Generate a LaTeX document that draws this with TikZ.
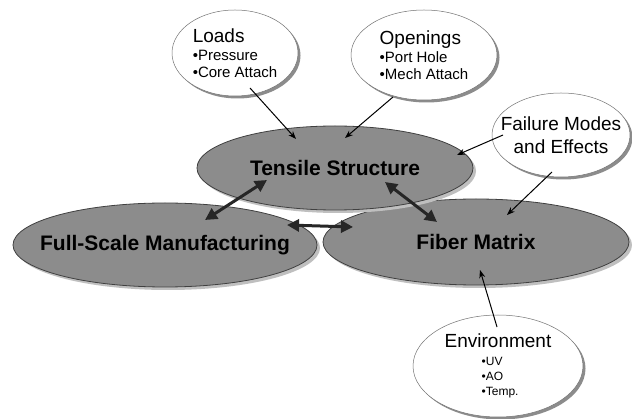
\documentclass[tikz,border=0pt]{standalone}
\usepackage{fontspec}
\setmainfont{Liberation Sans}
\usetikzlibrary{arrows.meta,calc,shapes.geometric,shadows}

\newcommand\bubblehead[1]{{\fontsize{19}{22}\selectfont #1}}

\begin{document}
\begin{tikzpicture}[x=1pt,y=-1pt,
  main/.style={ellipse,draw=black!75,fill=black!45,line width=0.8pt,inner xsep=-60pt,inner ysep=-20pt,
    font=\fontsize{21}{24}\selectfont\bfseries,
    drop shadow={shadow xshift=3pt,shadow yshift=-3pt,fill=black!25,opacity=1}},
  bubble/.style={ellipse,draw=black!55,fill=white,line width=0.5pt,inner xsep=-60pt,inner ysep=-20pt,
    align=left,font=\fontsize{15}{17}\selectfont,
    drop shadow={shadow xshift=2.5pt,shadow yshift=-2.5pt,fill=black!45,opacity=1}},
  arr/.style={-{Stealth[length=8pt,width=6pt]},line width=1pt},
  dbl/.style={{Triangle[length=12pt,width=12pt]}-{Triangle[length=12pt,width=12pt]},line width=3pt,black!85}]
\path[fill=white] (0,0) rectangle (632,419);
\useasboundingbox (0,0) rectangle (632,419);
% main topics
\node[main,minimum width=304pt,minimum height=84pt] (fs) at (165,245) {Full-Scale Manufacturing};
\node[main,minimum width=306pt,minimum height=86pt] (fm) at (476,242) {Fiber Matrix};
\node[main,minimum width=276pt,minimum height=84pt] (ts) at (335,168) {Tensile Structure};
% bubbles
\node[bubble,minimum width=126pt,minimum height=86pt] (ld) at (235,53)
  {\bubblehead{Loads}\\[1pt]•Pressure\\•Core Attach};
\node[bubble,minimum width=146pt,minimum height=90pt] (op) at (424,55)
  {\bubblehead{Openings}\\[1pt]•Port Hole\\•Mech Attach};
\node[bubble,minimum width=138pt,minimum height=84pt,align=center,font=\fontsize{19}{23}\selectfont] (fe) at (561,135)
  {Failure Modes\\and Effects};
\node[bubble,minimum width=170pt,minimum height=102pt,font=\fontsize{12}{15}\selectfont] (env) at (498,366)
  {\bubblehead{Environment}\\[3pt]\hspace*{37pt}•UV\\\hspace*{37pt}•AO\\\hspace*{37pt}•Temp.};
% connectors
\foreach \u/\ax/\ay/\v/\bx/\by in {ld/15/35/ts/-39/-29, op/-31/42/ts/10/-30, fe/-58/0/ts/122/-13,
    fe/-9/37/fm/31/-27, env/-1/-39/fm/4/28}
  \draw[arr] ($(\u)+(\ax,\ay)$) -- ($(\v)+(\bx,\by)$);
\foreach \u/\ax/\ay/\v/\bx/\by in {ts/-68/12/fs/40/-25, ts/50/14/fm/-39/-20, fs/122/-20/fm/-123/-15}
  \draw[dbl] ($(\u)+(\ax,\ay)$) -- ($(\v)+(\bx,\by)$);
\end{tikzpicture}
\end{document}
